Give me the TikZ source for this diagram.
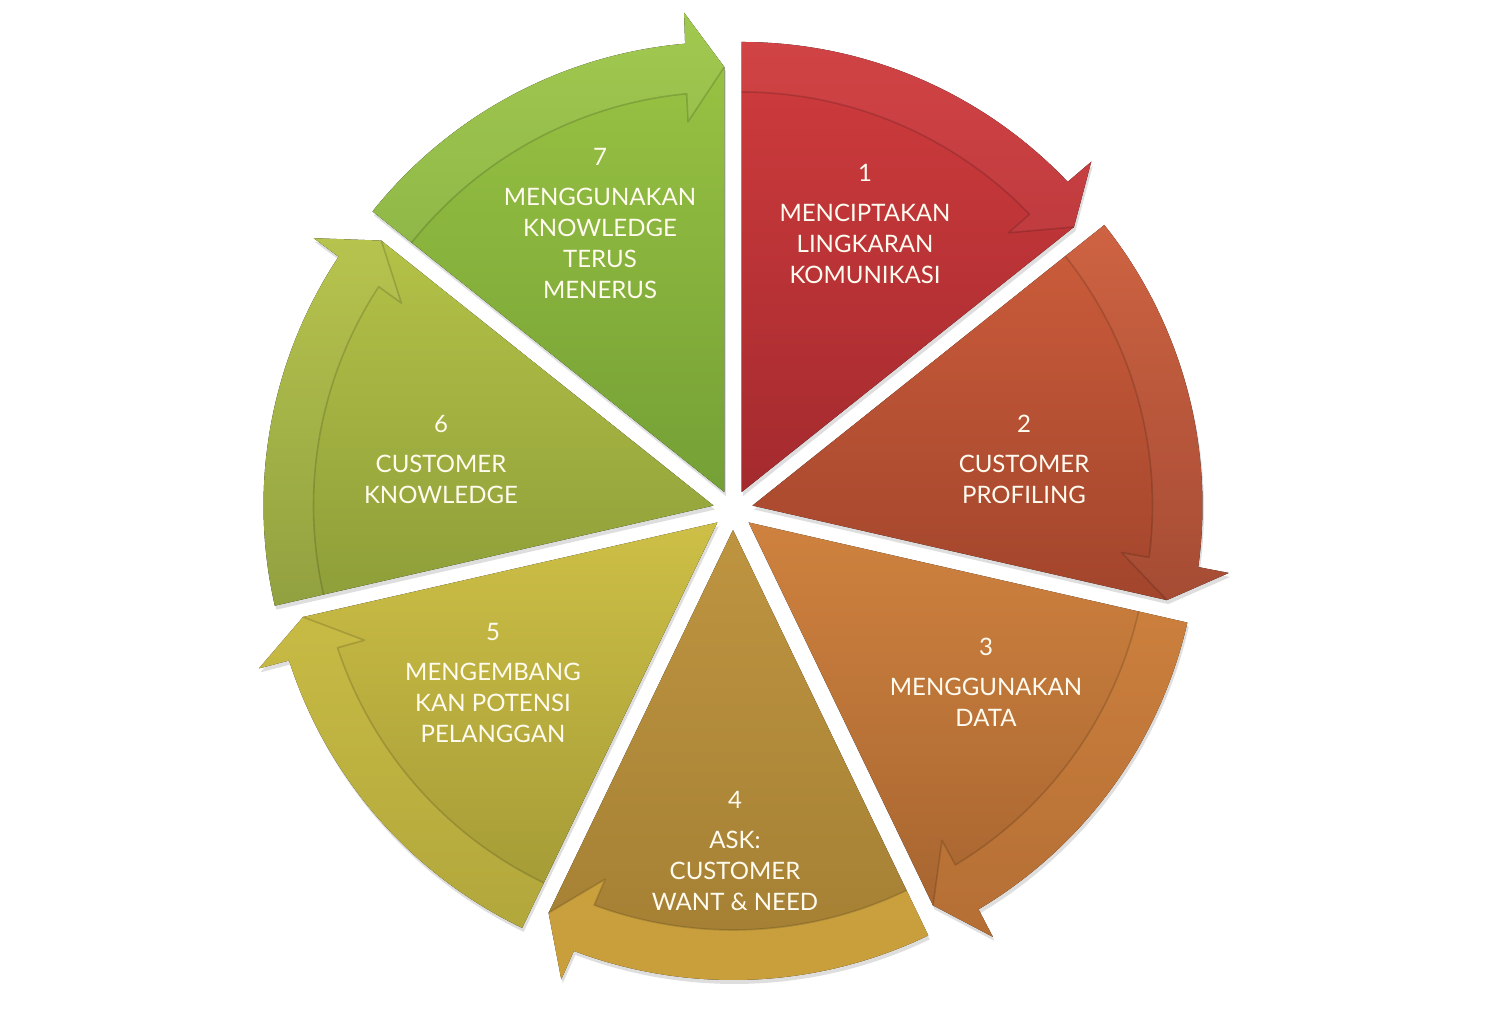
\documentclass[tikz,border=0pt]{standalone}
\usepackage{fontspec}
\setmainfont{Lato}
\definecolor{sAt}{HTML}{D03C3E}\definecolor{sAb}{HTML}{A42A2E}
\definecolor{sBt}{HTML}{CC5D3B}\definecolor{sBb}{HTML}{A2452C}
\definecolor{sCt}{HTML}{CF823F}\definecolor{sCb}{HTML}{A5632F}
\definecolor{sDt}{HTML}{BE9440}\definecolor{sDb}{HTML}{A27E33}
\definecolor{sEt}{HTML}{CDBF46}\definecolor{sEb}{HTML}{A19835}
\definecolor{sFt}{HTML}{B4C247}\definecolor{sFb}{HTML}{8E9E39}
\definecolor{sGt}{HTML}{9CC644}\definecolor{sGb}{HTML}{74A036}
\definecolor{bandD}{HTML}{D6AA40}
\definecolor{bandE}{HTML}{D2C44A}
\definecolor{bandC}{HTML}{D98A42}
\definecolor{labeltext}{HTML}{FFFBEF}
\tikzset{
  seglabel/.style={text=labeltext, align=center, font=\fontsize{24}{31}\selectfont, inner sep=0pt},
  bandline/.style={draw=black, draw opacity=0.15, line width=1.6pt, line join=round},
}
% #1 end angle (clockwise end), #2 top colour, #3 bottom colour, #4 band fill options
\newcommand{\cyclesegment}[4]{%
  \pgfmathsetmacro{\aone}{#1+51.4286}%
  \pgfmathsetmacro{\bis}{#1+25.7143}%
  \pgfmathsetmacro{\hout}{#1+4.8}%
  \pgfmathsetmacro{\hro}{#1+5.0}%
  \pgfmathsetmacro{\hri}{#1+5.4}%
  \pgfmathsetmacro{\hin}{#1+5.6}%
  \begin{scope}[shift={(\bis:20)}]
    \fill[black, opacity=0.13, shift={(1.5,-4)}] (0,0) -- (\aone:450)
      arc[start angle=\aone, end angle=\hro, radius=450] -- (\hout:481) -- (#1:425) -- cycle;
    \fill[top color=#2, bottom color=#3] (0,0) -- (\aone:450)
      arc[start angle=\aone, end angle=\hro, radius=450] -- (\hout:481) -- (#1:425) -- cycle;
    \fill[#4] (\aone:450)
      arc[start angle=\aone, end angle=\hro, radius=450] -- (\hout:481) -- (#1:425)
      -- (\hin:372) -- (\hri:400) arc[start angle=\hri, end angle=\aone, radius=400] -- cycle;
    \draw[bandline] (\aone:400) arc[start angle=\aone, end angle=\hri, radius=400]
      -- (\hin:372) -- (#1:425);
  \end{scope}%
}
\begin{document}
\begin{tikzpicture}[x=1pt, y=1pt]
  \fill[white] (-733,-515) rectangle (755,510);
  \useasboundingbox (-733,-515) rectangle (755,510);
  \cyclesegment{38.5714}{sAt}{sAb}{white, fill opacity=0.04}
  \cyclesegment{-12.8571}{sBt}{sBb}{white, fill opacity=0.04}
  \cyclesegment{-64.2857}{sCt}{sCb}{bandC, fill opacity=0.3}
  \cyclesegment{-115.7143}{sDt}{sDb}{bandD, fill opacity=0.75}
  \cyclesegment{-167.1429}{sEt}{sEb}{bandE, fill opacity=0.35}
  \cyclesegment{-218.5714}{sFt}{sFb}{white, fill opacity=0.04}
  \cyclesegment{90}{sGt}{sGb}{white, fill opacity=0.06}
  \node[seglabel] (t1) at (132,286) {1\\[9pt]MENCIPTAKAN\\LINGKARAN\\KOMUNIKASI};
  \node[seglabel] (t2) at (291,50.5) {2\\[9pt]CUSTOMER\\PROFILING};
  \node[seglabel] (t3) at (253,-172.5) {3\\[9pt]MENGGUNAKAN\\DATA};
  \node[seglabel] (t4) at (2,-340.5) {4\\[9pt]ASK:\\CUSTOMER\\WANT \& NEED};
  \node[seglabel] (t5) at (-240,-172.5) {5\\[9pt]MENGEMBANG\\KAN POTENSI\\PELANGGAN};
  \node[seglabel] (t6) at (-292,50.5) {6\\[9pt]CUSTOMER\\KNOWLEDGE};
  \node[seglabel] (t7) at (-133,286) {7\\[9pt]MENGGUNAKAN\\KNOWLEDGE\\TERUS\\MENERUS};
\end{tikzpicture}
\end{document}
